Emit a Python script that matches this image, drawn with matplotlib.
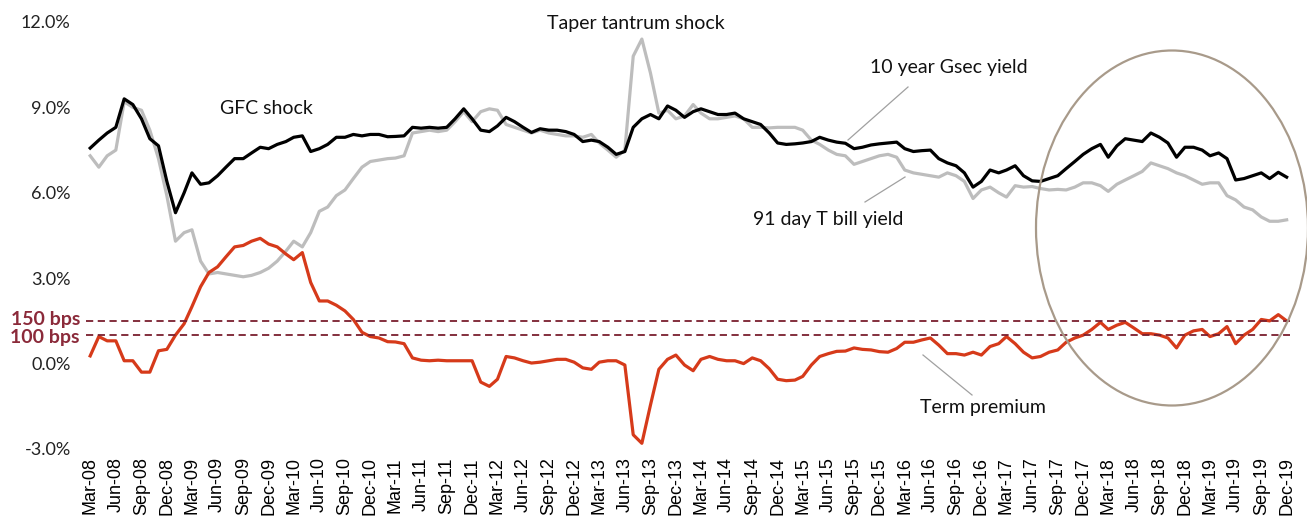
import pandas as pd
import matplotlib
matplotlib.use("Agg")
import matplotlib.pyplot as plt
import matplotlib.dates as mdates
from matplotlib.patches import Ellipse
from matplotlib.lines import Line2D
from matplotlib.ticker import FuncFormatter

# Monthly readings, Mar-08 to Dec-19 (142 months)
months = pd.date_range("2008-03-01", "2019-12-01", freq="MS")

gsec_10y = [
    7.57, 7.85, 8.10, 8.30, 9.30, 9.10, 8.60, 7.90, 7.65, 6.40,
    5.30, 6.00, 6.70, 6.30, 6.35, 6.60, 6.90, 7.20, 7.20, 7.40,
    7.60, 7.55, 7.70, 7.80, 7.95, 8.00, 7.45, 7.55, 7.70, 7.95,
    7.95, 8.05, 8.00, 8.05, 8.05, 7.97, 7.98, 8.00, 8.30, 8.27,
    8.30, 8.27, 8.30, 8.60, 8.95, 8.60, 8.20, 8.15, 8.35, 8.65,
    8.50, 8.30, 8.12, 8.25, 8.20, 8.20, 8.15, 8.05, 7.80, 7.85,
    7.80, 7.60, 7.35, 7.45, 8.30, 8.60, 8.75, 8.60, 9.05, 8.90,
    8.65, 8.85, 8.95, 8.85, 8.75, 8.75, 8.80, 8.60, 8.50, 8.40,
    8.10, 7.75, 7.70, 7.72, 7.75, 7.80, 7.95, 7.85, 7.78, 7.74,
    7.55, 7.60, 7.68, 7.72, 7.75, 7.78, 7.55, 7.45, 7.48, 7.50,
    7.20, 7.05, 6.95, 6.70, 6.20, 6.40, 6.80, 6.70, 6.80, 6.95,
    6.60, 6.42, 6.40, 6.50, 6.60, 6.85, 7.10, 7.35, 7.55, 7.70,
    7.25, 7.65, 7.90, 7.85, 7.80, 8.10, 7.95, 7.75, 7.25, 7.60,
    7.60, 7.50, 7.30, 7.40, 7.20, 6.45, 6.50, 6.60, 6.70, 6.50,
    6.72, 6.55,
]

tbill_91d = [
    7.30, 6.90, 7.30, 7.50, 9.20, 9.00, 8.90, 8.20, 7.20, 5.90,
    4.30, 4.60, 4.70, 3.60, 3.15, 3.20, 3.15, 3.10, 3.05, 3.10,
    3.20, 3.35, 3.60, 3.95, 4.30, 4.10, 4.60, 5.35, 5.50, 5.90,
    6.10, 6.50, 6.90, 7.10, 7.15, 7.20, 7.22, 7.30, 8.10, 8.15,
    8.20, 8.15, 8.20, 8.50, 8.85, 8.50, 8.85, 8.95, 8.90, 8.40,
    8.30, 8.20, 8.10, 8.20, 8.10, 8.05, 8.00, 8.00, 7.95, 8.05,
    7.75, 7.50, 7.25, 7.50, 10.80, 11.40, 10.20, 8.80, 8.90, 8.60,
    8.70, 9.10, 8.80, 8.60, 8.60, 8.65, 8.70, 8.60, 8.30, 8.30,
    8.28, 8.30, 8.30, 8.30, 8.20, 7.85, 7.70, 7.50, 7.35, 7.30,
    7.00, 7.10, 7.20, 7.30, 7.35, 7.25, 6.80, 6.70, 6.65, 6.60,
    6.55, 6.70, 6.60, 6.40, 5.80, 6.10, 6.20, 6.00, 5.85, 6.25,
    6.20, 6.22, 6.15, 6.10, 6.12, 6.10, 6.20, 6.35, 6.35, 6.25,
    6.05, 6.30, 6.45, 6.60, 6.75, 7.05, 6.95, 6.85, 6.70, 6.60,
    6.45, 6.30, 6.35, 6.35, 5.90, 5.75, 5.50, 5.40, 5.15, 5.00,
    5.00, 5.05,
]

df = pd.DataFrame({"gsec": gsec_10y, "tbill": tbill_91d}, index=months)
# Term premium = 10y Gsec yield minus 91 day T bill yield
df["term_premium"] = df["gsec"] - df["tbill"]

W, H = 1307, 524
fig = plt.figure(figsize=(W / 100, H / 100), dpi=100)
ax = fig.add_axes([86 / W, 1 - 449 / H, (1290 - 86) / W, (449 - 22) / H])

ax.plot(df.index, df["tbill"], color="#BDBDBD", lw=2.3)
ax.plot(df.index, df["gsec"], color="black", lw=2.3)
ax.plot(df.index, df["term_premium"], color="#D63A1A", lw=2.3)

# 100 / 150 bps reference lines
for lvl in [1.5, 1.0]:
    ax.axhline(lvl, color="#7A1F2E", lw=1.3, ls=(0, (4, 2.5)))

ax.set_ylim(-3, 12)
ax.set_yticks([-3, 0, 3, 6, 9, 12])
ax.yaxis.set_major_formatter(FuncFormatter(lambda v, p: f"{v:.1f}%"))
ax.set_xlim(months[0] - pd.Timedelta(days=15), months[-1] + pd.Timedelta(days=12))
ax.xaxis.set_major_locator(mdates.MonthLocator(bymonth=[3, 6, 9, 12]))
ax.xaxis.set_major_formatter(mdates.DateFormatter("%b-%y"))

for s in ax.spines.values():
    s.set_visible(False)
ax.tick_params(axis="both", length=0)
ax.tick_params(axis="y", pad=11, labelsize=13, labelcolor="#222222")
ax.tick_params(axis="x", pad=6, labelsize=13, rotation=90)
for lab in ax.get_yticklabels():
    lab.set_fontfamily("Lato")
for lab in ax.get_xticklabels():
    lab.set_fontfamily("Liberation Sans")


def fpx(x, y):
    # figure pixel (from top-left) to figure fraction
    return x / W, 1 - y / H


txt = dict(fontfamily="Lato", fontsize=14, color="#111111", va="center")
fig.text(*fpx(220, 108), "GFC shock", **txt)
fig.text(*fpx(547, 23), "Taper tantrum shock", **txt)
fig.text(*fpx(870, 68), "10 year Gsec yield", **txt)
fig.text(*fpx(753, 220), "91 day T bill yield", **txt)
fig.text(*fpx(920, 408), "Term premium", **txt)

bps = dict(fontfamily="Lato", fontsize=14, color="#8B2A3A", fontweight="bold",
           va="center", ha="right")
fig.text(*fpx(80, 320), "150 bps", **bps)
fig.text(*fpx(80, 338), "100 bps", **bps)

# leader lines for the labels
for (x0, y0), (x1, y1) in [((908, 87), (848, 140)),
                           ((905, 177), (865, 202)),
                           ((923, 355), (972, 395))]:
    a, b = fpx(x0, y0)
    c, d = fpx(x1, y1)
    fig.add_artist(Line2D([a, c], [b, d], color="#A0A0A0", lw=0.9))

# ellipse highlighting the recent period
fig.add_artist(Ellipse(fpx(1172, 228), 272 / W, 355 / H, fill=False,
                       edgecolor="#A89A8A", lw=1.6))

fig.savefig("out.png", dpi=100)
